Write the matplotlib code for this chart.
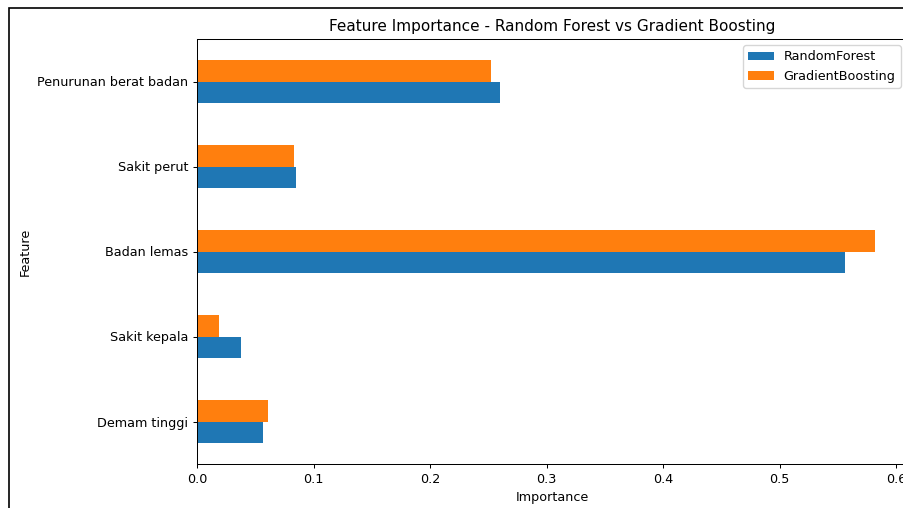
import matplotlib
matplotlib.use("Agg")
import matplotlib.pyplot as plt
import numpy as np
from matplotlib.patches import Rectangle

features = ["Demam tinggi", "Sakit kepala", "Badan lemas", "Sakit perut", "Penurunan berat badan"]
rf_importance = [0.0569, 0.0375, 0.5562, 0.0847, 0.2604]
gb_importance = [0.0612, 0.0186, 0.5823, 0.0833, 0.2521]
series_names = ["RandomForest", "GradientBoosting"]
xticks = [0.0, 0.1, 0.2, 0.3, 0.4, 0.5, 0.6]

s = 0.915
plt.rcParams.update({
    "font.size": 10 * s,
    "xtick.major.size": 3.5 * s,
    "ytick.major.size": 3.5 * s,
    "xtick.major.pad": 3.5 * s,
    "ytick.major.pad": 3.5 * s,
    "axes.linewidth": 0.8 * s,
    "xtick.major.width": 0.8 * s,
    "ytick.major.width": 0.8 * s,
    "axes.labelpad": 4.0 * s,
    "axes.titlepad": 6.0 * s,
})

W, H = 904, 508
fig = plt.figure(figsize=(W / 100, H / 100), dpi=100)

# screenshot frame border (left and top visible)
fig.patches.append(Rectangle((8.5 / W, -0.1), 1.2, 1 - 8.5 / H + 0.1,
                             transform=fig.transFigure, fill=False,
                             edgecolor="black", linewidth=1.2, zorder=10))

left, right, top, bottom = 197, 907, 39, 464
ax = fig.add_axes([left / W, 1 - bottom / H, (right - left) / W, (bottom - top) / H])

y = np.arange(len(features))
h = 0.25
ax.barh(y - h / 2, rf_importance, height=h, color="#1f77b4", label=series_names[0])
ax.barh(y + h / 2, gb_importance, height=h, color="#ff7f0e", label=series_names[1])

ax.set_yticks(y)
ax.set_yticklabels(features)
ax.set_xticks(xticks)
ax.set_xticklabels([f"{t:.1f}" for t in xticks])
ax.set_ylim(-0.5, len(features) - 0.5)
ax.set_xlim(0, (right - left) / 1165)
ax.set_xlabel("Importance")
ax.set_ylabel("Feature")
ax.set_title("Feature Importance - Random Forest vs Gradient Boosting", fontsize=12 * s)
ax.legend(loc="upper right", borderaxespad=0.5)

fig.savefig("out.png", dpi=100)
